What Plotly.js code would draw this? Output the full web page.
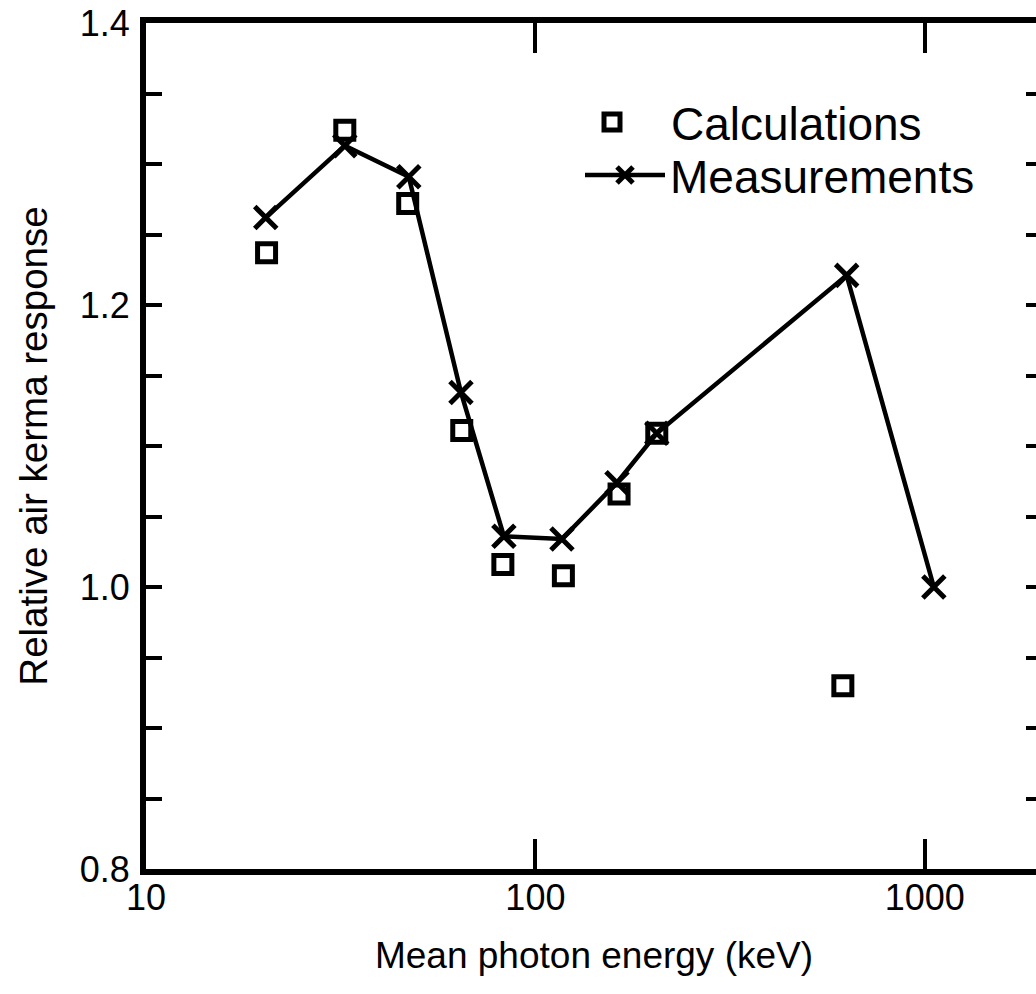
<!DOCTYPE html>
<html>
<head>
<meta charset="utf-8">
<script src="https://cdn.plot.ly/plotly-3.0.1.min.js"></script>
<style>
  html, body { margin: 0; padding: 0; overflow: hidden; background: #fff; }
  #chart { width: 1050px; height: 994px; }
</style>
</head>
<body>
<div id="chart"></div>
<script>
// Measurements (x markers joined by a line)
const measEnergy = [20.3, 32.4, 47.3, 64.4, 83.0, 117, 162, 205, 630, 1055];
const measResponse = [1.262, 1.313, 1.291, 1.138, 1.036, 1.034, 1.074, 1.109, 1.221, 1.000];

// Calculations (open squares)
const calcEnergy = [20.4, 32.4, 47.0, 64.7, 82.5, 118, 164, 205, 616];
const calcResponse = [1.237, 1.324, 1.272, 1.111, 1.016, 1.008, 1.066, 1.109, 0.930];

// Axis ticks
const xTickStart = 1;      // log10(10)
const xTickStep = 1;       // one decade
const yTicks = [0.8, 0.85, 0.9, 0.95, 1.0, 1.05, 1.1, 1.15, 1.2, 1.25, 1.3, 1.35, 1.4];
const yLabels = ['0.8', '', '', '', '1.0', '', '', '', '1.2', '', '', '', '1.4'];

const FONT = 'Liberation Sans, Arial, Helvetica, sans-serif';

const traces = [
  {
    x: calcEnergy, y: calcResponse, name: 'Calculations',
    type: 'scatter', mode: 'markers', legend: 'legend',
    marker: { symbol: 'square-open', size: 18, color: '#000', line: { width: 5, color: '#000' } },
    cliponaxis: false
  },
  {
    x: measEnergy, y: measResponse, name: 'Measurements',
    type: 'scatter', mode: 'lines+markers', legend: 'legend2',
    line: { color: '#000', width: 4.5 },
    marker: { symbol: 'x-thin-open', size: 22, color: '#000', line: { width: 5, color: '#000' } },
    cliponaxis: false
  }
];

const layout = {
  width: 1050, height: 994,
  margin: { l: 146, r: 8, t: 23, b: 125 },
  paper_bgcolor: '#fff', plot_bgcolor: '#fff',
  font: { family: FONT, size: 36, color: '#000' },
  showlegend: true,
  legend: {
    x: (553 - 146) / 896, y: 1 - (122 - 23) / 846, xanchor: 'left', yanchor: 'middle',
    bgcolor: 'rgba(0,0,0,0)', borderwidth: 0,
    font: { family: FONT, size: 46, color: '#000' },
    itemwidth: 108
  },
  legend2: {
    x: (580 - 146) / 896, y: 1 - (175 - 23) / 846, xanchor: 'left', yanchor: 'middle',
    bgcolor: 'rgba(0,0,0,0)', borderwidth: 0,
    font: { family: FONT, size: 46, color: '#000' },
    itemwidth: 80
  },
  xaxis: {
    type: 'log', range: [1, Math.log10(2000)],
    tickmode: 'linear', tick0: xTickStart, dtick: xTickStep, exponentformat: 'none',
    ticks: 'inside', ticklen: 30, tickwidth: 4, tickcolor: '#000',
    showline: true, linewidth: 6, linecolor: '#000', mirror: 'ticks',
    showgrid: false, zeroline: false,
    tickfont: { family: FONT, size: 36, color: '#000' },
    ticklabelstandoff: -8,
    title: { text: 'Mean photon energy (keV)', font: { family: FONT, size: 37, color: '#000' }, standoff: 27 }
  },
  yaxis: {
    range: [0.8, 1.4],
    tickmode: 'array', tickvals: yTicks, ticktext: yLabels,
    ticks: 'inside', ticklen: 16, tickwidth: 4, tickcolor: '#000',
    showline: true, linewidth: 6, linecolor: '#000', mirror: 'ticks',
    showgrid: false, zeroline: false,
    tickfont: { family: FONT, size: 36, color: '#000' },
    ticklabelstandoff: 3,
    title: { text: 'Relative air kerma response', font: { family: FONT, size: 38.5, color: '#000' }, standoff: 22 }
  }
};

Plotly.newPlot('chart', traces, layout, { displayModeBar: false });
</script>
</body>
</html>
